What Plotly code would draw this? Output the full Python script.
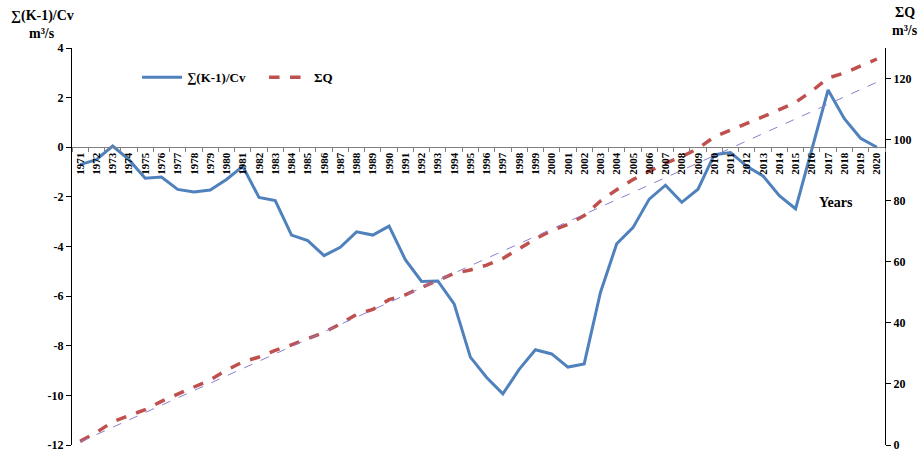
import plotly.graph_objects as go

years = [str(y) for y in range(1971, 2021)]

k_cv = [-0.7, -0.5, 0.05, -0.5, -1.25, -1.2, -1.7, -1.8, -1.72, -1.3,
        -0.77, -2.02, -2.15, -3.54, -3.76, -4.37, -4.03, -3.41, -3.54, -3.18,
        -4.53, -5.41, -5.39, -6.31, -8.46, -9.28, -9.94, -8.95, -8.16, -8.33,
        -8.86, -8.73, -5.85, -3.89, -3.24, -2.09, -1.53, -2.22, -1.69, -0.3,
        -0.21, -0.77, -1.16, -1.95, -2.48, -0.1, 2.31, 1.15, 0.36, 0.0]

sum_q = [1.2, 4.1, 7.6, 9.5, 11.6, 14.3, 16.7, 19.1, 21.3, 24.5,
         27.2, 28.8, 31.0, 32.8, 34.7, 36.9, 39.6, 42.8, 44.4, 47.6,
         49.2, 51.4, 53.9, 56.2, 57.3, 58.9, 61.1, 64.3, 67.5, 70.2,
         72.2, 75.1, 79.9, 83.6, 86.9, 89.6, 92.3, 94.4, 97.1, 100.9,
         103.0, 105.2, 107.5, 109.8, 112.2, 115.9, 120.2, 121.8, 124.0, 126.4]

trend_years = ["1971", "2020"]
trend_q = [1.0, 118.8]

left_ticks = [4, 2, 0, -2, -4, -6, -8, -10, -12]
left_ticktext = ["4", "2", "0", "-2", "-4", "-6", "-8", "-10", "-12"]
right_ticks = [0, 20, 40, 60, 80, 100, 120]

FONT = "Liberation Serif"

fig = go.Figure()
fig.add_trace(go.Scatter(
    x=years, y=k_cv, name="∑(K-1)/Cv", mode="lines",
    line=dict(color="#4F81BD", width=3), yaxis="y"))
fig.add_trace(go.Scatter(
    x=years, y=sum_q, name="ΣQ", mode="lines",
    line=dict(color="#C0504D", width=3.5, dash="dash"), yaxis="y2"))
fig.add_trace(go.Scatter(
    x=trend_years, y=trend_q, name="trend", mode="lines", showlegend=False,
    line=dict(color="#8C7FCC", width=1, dash="dash"), yaxis="y2"))

fig.update_layout(
    width=923, height=464,
    margin=dict(l=72, r=38, t=48, b=12),
    paper_bgcolor="white", plot_bgcolor="white",
    font=dict(family=FONT, size=12, color="black", weight="bold"),
    showlegend=True,
    legend=dict(orientation="h", x=0.08, y=0.926, xanchor="left", yanchor="middle",
                font=dict(family=FONT, size=13, weight="bold"),
                bgcolor="rgba(0,0,0,0)", itemwidth=40,
                entrywidth=72, entrywidthmode="pixels"),
    xaxis=dict(type="category", categoryorder="array", categoryarray=years,
               range=[-0.5, 49.5], anchor="free", position=0.75,
               showline=True, linecolor="#7f7f7f", linewidth=1.2,
               ticks="outside", ticklen=4, tickcolor="#7f7f7f", tickson="boundaries",
               tickangle=-90, tickfont=dict(family=FONT, size=11, weight="bold"),
               showgrid=False, zeroline=False),
    yaxis=dict(range=[-12, 4], tickvals=left_ticks, ticktext=left_ticktext,
               showline=True, linecolor="black",
               linewidth=1, ticks="outside", ticklen=5, tickcolor="black",
               showgrid=False, zeroline=False,
               tickfont=dict(family=FONT, size=12, weight="bold")),
    yaxis2=dict(range=[0, 130], tickvals=right_ticks, overlaying="y", side="right",
                showline=True, linecolor="black", linewidth=1, ticks="outside",
                ticklen=5, tickcolor="black", showgrid=False, zeroline=False,
                tickfont=dict(family=FONT, size=12, weight="bold")),
    annotations=[
        dict(text="∑(K-1)/Cv", x=42, y=15, showarrow=False,
             font=dict(family=FONT, size=14, weight="bold")),
        dict(text="m³/s", x=42, y=33, showarrow=False,
             font=dict(family=FONT, size=14, weight="bold")),
        dict(text="ΣQ", x=905, y=12, showarrow=False,
             font=dict(family=FONT, size=14, weight="bold")),
        dict(text="m³/s", x=905, y=30, showarrow=False,
             font=dict(family=FONT, size=14, weight="bold")),
        dict(text="Years", x=836, y=205, showarrow=False,
             font=dict(family=FONT, size=14, weight="bold")),
    ],
)

# convert pixel positions of annotations into paper coordinates
pl, pr, pt, pb = 72, 923 - 38, 48, 464 - 12
for a in fig.layout.annotations:
    px, py = a.x, a.y
    a.xref = "paper"
    a.yref = "paper"
    a.x = (px - pl) / (pr - pl)
    a.y = (pb - py) / (pb - pt)
    a.xanchor = "center"
    a.yanchor = "middle"

fig.write_html("out.html")
